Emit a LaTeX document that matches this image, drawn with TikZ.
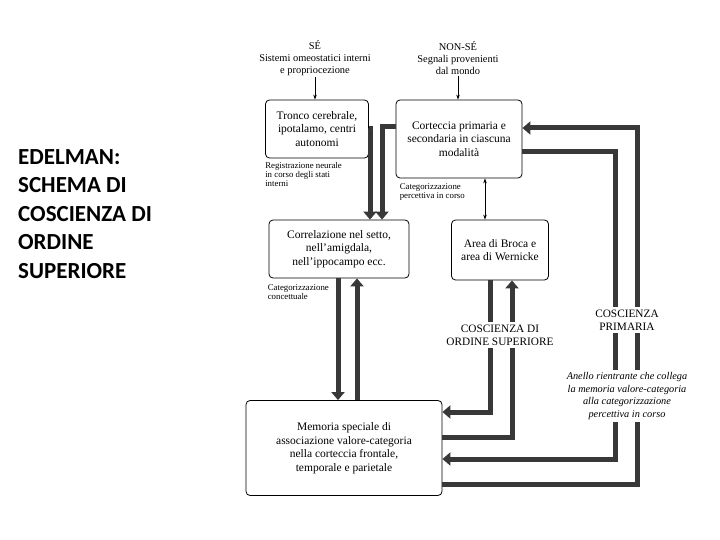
\documentclass[tikz,border=0pt]{standalone}
\usepackage{fontspec}
\setmainfont{Liberation Serif}
\newfontfamily\titlefont{Carlito}
\usetikzlibrary{arrows.meta}

\tikzset{
  box/.style={draw, rounded corners=4pt, line width=0.8pt, align=center,
    inner sep=2pt, font=\fontsize{11.5}{13.5}\selectfont},
  note/.style={align=left, inner sep=0pt, font=\fontsize{8.8}{9}\selectfont},
  source/.style={align=center, inner sep=1pt, font=\fontsize{10.4}{12}\selectfont},
  tag/.style={align=center, fill=white, inner sep=3pt, font=\fontsize{11.3}{13}\selectfont},
  flow/.style={line width=5pt, draw=black!78, -{Triangle[length=8pt,width=13pt]}},
  thinflow/.style={line width=0.6pt, -{Stealth[length=5pt,width=3.5pt]}},
}

\begin{document}
\begin{tikzpicture}[x=1pt, y=-1pt]
\useasboundingbox (0,0) rectangle (720,540);
\node[anchor=north west, align=left, inner sep=0pt,
  font=\titlefont\bfseries\fontsize{23}{28.5}\selectfont] (title) at (18,149)
  {EDELMAN:\\SCHEMA DI\\COSCIENZA DI\\ORDINE\\SUPERIORE};

\node[source] (se) at (315,58) {SÉ\\Sistemi omeostatici interni\\e propriocezione};
\node[source] (nonse) at (458,58) {NON-SÉ\\Segnali provenienti\\dal mondo};

 \begin{scope}[every node/.style={box}]
  \node[minimum width=103pt, minimum height=58pt] (tronco) at (317,129) {Tronco cerebrale,\\ipotalamo, centri\\autonomi};
  \node[minimum width=126pt, minimum height=78pt] (cort) at (459,139) {Corteccia primaria e\\secondaria in ciascuna\\modalità};
  \node[minimum width=140pt, minimum height=58pt] (corr) at (339,249) {Correlazione nel setto,\\nell'amigdala,\\nell'ippocampo ecc.};
  \node[minimum width=97pt, minimum height=60pt] (broca) at (500,250) {Area di Broca e\\area di Wernicke};
  \node[minimum width=196pt, minimum height=95pt] (mem) at (344,448) {Memoria speciale di\\associazione valore-categoria\\nella corteccia frontale,\\temporale e parietale};
 \end{scope}

 \begin{scope}[every node/.style={note, anchor=north west}]
  \node (regnote) at ([yshift=-4pt]tronco.south west) {Registrazione neurale\\in corso degli stati\\interni};
  \node (percnote) at ([yshift=-5pt, xshift=4pt]cort.south west) {Categorizzazione\\percettiva in corso};
  \node (concnote) at ([yshift=-6pt, xshift=-1pt]corr.south west) {Categorizzazione\\concettuale};
 \end{scope}

% x of the vertical runs
\coordinate (tr) at (370,0);
\coordinate (ct) at (382,0);
\coordinate (pc) at (485,0);
\coordinate (cd) at (338,0);
\coordinate (cu) at (357,0);
\coordinate (bd) at (490,0);
\coordinate (bu) at (512,0);
\coordinate (ld) at (615,0);
\coordinate (lu) at (637,0);
% ends on the side of the boxes
\coordinate (c1) at ([yshift=11pt]cort.east);
\coordinate (c2) at ([yshift=-13pt]cort.east);
\coordinate (m1) at ([yshift=36pt]mem.east);
\coordinate (m2) at ([yshift=11pt]mem.east);
\coordinate (m3) at ([yshift=-11pt]mem.east);
\coordinate (m4) at ([yshift=-36pt]mem.east);

\draw[thinflow] (se.south) -- (se.south |- tronco.north);
\draw[thinflow] (nonse.south) -- (nonse.south |- cort.north);
\draw[line width=0.6pt, {Stealth[length=5pt,width=3.5pt]}-{Stealth[length=5pt,width=3.5pt]}] (cort.south -| pc) -- (broca.north -| pc);

\draw[flow] (tronco.east) -| (corr.north -| tr);
\draw[flow] ([yshift=12pt]cort.west) -| (corr.north -| ct);
\draw[flow] (corr.south -| cd) -- (mem.north -| cd);
\draw[flow] (mem.north -| cu) -- (corr.south -| cu);
\draw[flow] (broca.south -| bd) |- (m1);
\draw[flow] (m2) -| (broca.south -| bu);
\draw[flow] (c2) -| (ld |- m3) -- (m3);
\draw[flow] (m4) -| (lu |- c1) -- (c1);

 \begin{scope}[every node/.style={tag}]
  \node (hoc) at (500,335) {COSCIENZA DI\\ORDINE SUPERIORE};
  \node (pc1) at (627,320) {COSCIENZA\\PRIMARIA};
  \node[font=\itshape\fontsize{10.3}{12.5}\selectfont] (loop) at (627,396)
    {Anello rientrante che collega\\la memoria valore-categoria\\alla categorizzazione\\percettiva in corso};
 \end{scope}
\end{tikzpicture}
\end{document}
